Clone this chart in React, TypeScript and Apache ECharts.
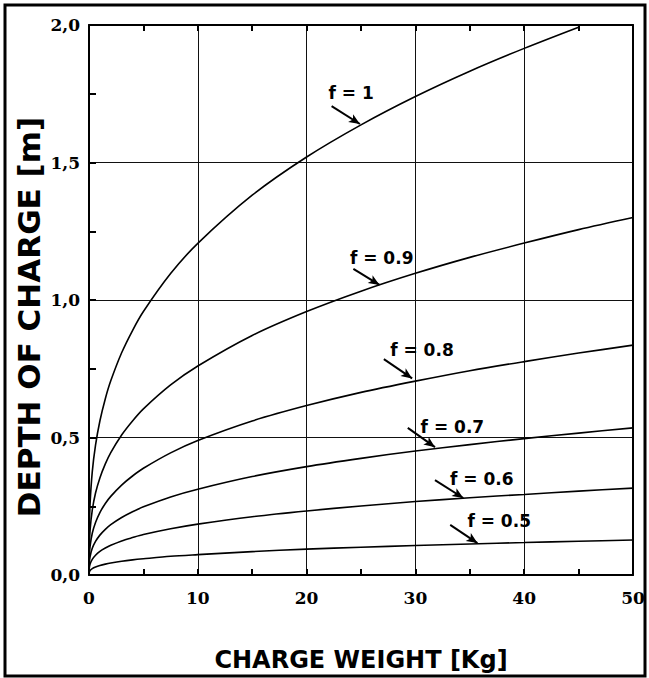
import React, { useEffect, useRef } from 'react';
import * as echarts from 'echarts';

// Charge weight [kg] sample positions
const weights = [0, 0.02, 0.1, 0.3, 0.6, 1, 1.5, 2, 3, 4, 5, 7.5, 10, 15, 20, 25, 30, 35, 40, 45, 50];

// Depth of charge [m] for each f
const f10 = [0, 0.152, 0.26, 0.375, 0.472, 0.56, 0.641, 0.706, 0.808, 0.889, 0.958, 1.096, 1.206, 1.381, 1.52, 1.637, 1.74, 1.832, 1.915, 1.992, null];
const f09 = [0, 0.096, 0.164, 0.236, 0.298, 0.353, 0.404, 0.445, 0.509, 0.56, 0.604, 0.691, 0.76, 0.871, 0.958, 1.032, 1.097, 1.155, 1.207, 1.256, 1.30];
const f08 = [0, 0.0615, 0.105, 0.152, 0.191, 0.227, 0.26, 0.286, 0.327, 0.36, 0.388, 0.444, 0.489, 0.56, 0.616, 0.664, 0.705, 0.743, 0.776, 0.807, 0.836];
const f07 = [0, 0.039, 0.067, 0.097, 0.122, 0.145, 0.166, 0.183, 0.209, 0.23, 0.248, 0.284, 0.312, 0.358, 0.394, 0.424, 0.451, 0.474, 0.496, 0.516, 0.535];
const f06 = [0, 0.023, 0.04, 0.057, 0.072, 0.086, 0.098, 0.108, 0.124, 0.136, 0.147, 0.168, 0.185, 0.212, 0.233, 0.251, 0.267, 0.281, 0.293, 0.305, 0.316];
const f05 = [0, 0.0093, 0.016, 0.023, 0.029, 0.0345, 0.0395, 0.0435, 0.05, 0.055, 0.059, 0.068, 0.074, 0.085, 0.094, 0.101, 0.107, 0.113, 0.118, 0.123, 0.127];

const curveNames = ['f = 1', 'f = 0.9', 'f = 0.8', 'f = 0.7', 'f = 0.6', 'f = 0.5'];
const curves = [f10, f09, f08, f07, f06, f05];

// annotation anchors in data coordinates
const labelAt = [[24.1, 1.753], [26.9, 1.151], [30.6, 0.818], [33.4, 0.54], [36.1, 0.349], [37.7, 0.196]];
const arrowFrom = [[22.3, 1.705], [24.3, 1.113], [27.1, 0.785], [29.3, 0.535], [31.8, 0.345], [33.2, 0.182]];
const arrowTo = [[24.9, 1.64], [26.7, 1.055], [29.7, 0.715], [31.8, 0.465], [34.4, 0.28], [35.7, 0.116]];

const xTitle = 'CHARGE WEIGHT [Kg]';
const yTitle = 'DEPTH OF CHARGE [m]';

export default function App() {
  const ref = useRef<HTMLDivElement>(null);
  useEffect(() => {
    if (!ref.current) return;
    const chart = echarts.init(ref.current, null, { renderer: 'svg' });
    const tickFont = { fontFamily: 'DejaVu Serif', fontWeight: 'bold' as const, fontSize: 17, color: '#000' };
    const series: any[] = curves.map((vals, i) => ({
      name: curveNames[i],
      type: 'line',
      data: weights.map((w, j) => [w, vals[j]]).filter((p) => p[1] !== null),
      showSymbol: false,
      smooth: 0.3,
      lineStyle: { color: '#000', width: 1.6 },
      clip: true,
      markLine: {
        silent: true,
        symbol: ['none', 'arrow'],
        symbolSize: [7, 11],
        lineStyle: { color: '#000', width: 2, type: 'solid' },
        label: { show: false },
        data: [[{ coord: arrowFrom[i] }, { coord: arrowTo[i] }]],
      },
      markPoint: {
        silent: true,
        symbol: 'circle',
        symbolSize: 1,
        itemStyle: { color: 'rgba(0,0,0,0)' },
        label: {
          show: true,
          position: 'inside',
          formatter: curveNames[i],
          color: '#000',
          fontFamily: 'DejaVu Sans',
          fontWeight: 'bold',
          fontSize: 17,
        },
        data: [{ coord: labelAt[i] }],
      },
    }));
    chart.setOption({
      animation: false,
      backgroundColor: '#fff',
      grid: { left: 89, right: 16, top: 25, bottom: 103, show: false },
      xAxis: [
        {
          type: 'value', min: 0, max: 50, interval: 10, position: 'bottom',
          axisLine: { show: true, lineStyle: { color: '#000', width: 2 } },
          axisTick: { show: true, inside: true, length: 6, lineStyle: { color: '#000', width: 2 } },
          minorTick: { show: true, splitNumber: 2, length: 6, lineStyle: { color: '#000', width: 2 } },
          splitLine: { show: true, lineStyle: { color: '#111', width: 1 } },
          axisLabel: { ...tickFont, margin: 14 },
        },
        {
          type: 'value', min: 0, max: 50, interval: 10, position: 'top',
          axisLine: { show: true, onZero: false, lineStyle: { color: '#000', width: 2 } },
          axisTick: { show: true, inside: true, length: 6, lineStyle: { color: '#000', width: 2 } },
          minorTick: { show: true, splitNumber: 2, length: 6, lineStyle: { color: '#000', width: 2 } },
          splitLine: { show: false },
          axisLabel: { show: false },
        },
      ],
      yAxis: [
        {
          type: 'value', min: 0, max: 2, interval: 0.5, position: 'left',
          axisLine: { show: true, lineStyle: { color: '#000', width: 2 } },
          axisTick: { show: true, inside: true, length: 7, lineStyle: { color: '#000', width: 2 } },
          minorTick: { show: true, splitNumber: 2, length: 7, lineStyle: { color: '#000', width: 2 } },
          splitLine: { show: true, lineStyle: { color: '#111', width: 1 } },
          axisLabel: { ...tickFont, margin: 9, formatter: (v: number) => v.toFixed(1).replace('.', ',') },
        },
        {
          type: 'value', min: 0, max: 2, interval: 0.5, position: 'right',
          axisLine: { show: true, onZero: false, lineStyle: { color: '#000', width: 2 } },
          axisTick: { show: false },
          splitLine: { show: false },
          axisLabel: { show: false },
        },
      ],
      graphic: [
        { type: 'rect', shape: { x: 5, y: 5, width: 640, height: 671 }, style: { fill: 'none', stroke: '#000', lineWidth: 3 }, silent: true },
        {
          type: 'text', x: 361, y: 660,
          style: { text: xTitle, font: 'bold 24px "DejaVu Sans"', fill: '#000', textAlign: 'center', textVerticalAlign: 'middle', align: 'center', verticalAlign: 'middle' },
        },
        {
          type: 'text', x: 29, y: 317, rotation: Math.PI / 2,
          style: { text: yTitle, font: 'bold 31px "DejaVu Sans"', fill: '#000', textAlign: 'center', textVerticalAlign: 'middle', align: 'center', verticalAlign: 'middle' },
        },
      ],
      series,
    });
    return () => chart.dispose();
  }, []);
  return <div ref={ref} style={{ position: 'fixed', left: 0, top: 0, width: 649, height: 678 }} />;
}
